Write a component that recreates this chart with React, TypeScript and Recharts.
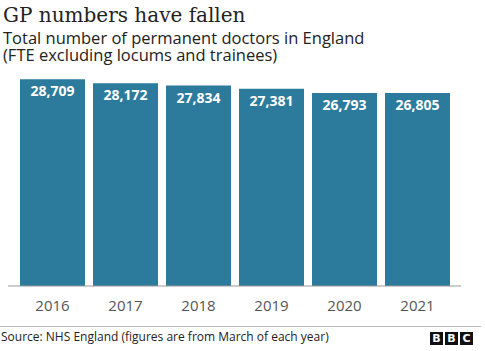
import { BarChart, Bar, XAxis, YAxis, LabelList } from "recharts";

const years = ["2016", "2017", "2018", "2019", "2020", "2021"];
const doctors = [28709, 28172, 27834, 27381, 26793, 26805];

const chartData = years.map((year, i) => ({ year, doctors: doctors[i] }));

const sans = "'Open Sans', 'Noto Sans', sans-serif";

const subLine = {
  position: "absolute" as const,
  left: 3,
  fontSize: 16.5,
  lineHeight: "17px",
  color: "#222",
  whiteSpace: "nowrap" as const,
};

const App = () => {
  return (
    <div
      style={{
        position: "relative",
        width: 485,
        height: 351,
        background: "#fff",
        overflow: "hidden",
        fontFamily: sans,
      }}
    >
      <style>{`body{margin:0}`}</style>
      <div
        style={{
          position: "absolute",
          left: 3,
          top: 5,
          fontFamily: "'DejaVu Serif', serif",
          fontSize: 20,
          lineHeight: "20px",
          color: "#222",
          whiteSpace: "nowrap",
        }}
      >
        GP numbers have fallen
      </div>
      <div style={{ ...subLine, top: 29 }}>
        Total number of permanent doctors in England
      </div>
      <div style={{ ...subLine, top: 46 }}>
        (FTE excluding locums and trainees)
      </div>

      <div style={{ position: "absolute", left: 0, top: 60 }}>
        <BarChart
          width={485}
          height={270}
          data={chartData}
          margin={{ top: 10, right: 24, bottom: 20, left: 8 }}
        >
          <XAxis
            dataKey="year"
            height={24}
            padding={{ left: 8, right: 7 }}
            axisLine={{ stroke: "#999", strokeWidth: 1 }}
            tickLine={false}
            tickSize={0}
            tickMargin={14}
            tick={{ fill: "#555", fontSize: 15, fontFamily: sans }}
          />
          <YAxis hide domain={[0, 30000]} />
          <Bar
            dataKey="doctors"
            fill="#2c7b9c"
            barSize={65}
            isAnimationActive={false}
          >
            <LabelList
              dataKey="doctors"
              position="insideTop"
              offset={7}
              formatter={(v: any) => Number(v).toLocaleString("en-US")}
              style={{
                fill: "#fff",
                fontSize: 14,
                fontWeight: 700,
                fontFamily: sans,
              }}
            />
          </Bar>
        </BarChart>
      </div>

      <div
        style={{
          position: "absolute",
          left: 0,
          top: 326,
          width: 481,
          height: 1,
          background: "#bbb",
        }}
      />
      <div
        style={{
          position: "absolute",
          left: 1,
          top: 331,
          fontSize: 12,
          lineHeight: "12px",
          color: "#222",
          whiteSpace: "nowrap",
        }}
      >
        Source: NHS England (figures are from March of each year)
      </div>
      <div
        style={{
          position: "absolute",
          left: 430,
          top: 332,
          display: "flex",
          gap: 2,
        }}
      >
        {["B", "B", "C"].map((ch, i) => (
          <div
            key={i}
            style={{
              width: 13,
              height: 13,
              background: "#111",
              color: "#fff",
              fontFamily: "'DejaVu Sans', sans-serif",
              fontWeight: 700,
              fontSize: 11,
              lineHeight: "13px",
              textAlign: "center",
            }}
          >
            {ch}
          </div>
        ))}
      </div>
    </div>
  );
};

export default App;
